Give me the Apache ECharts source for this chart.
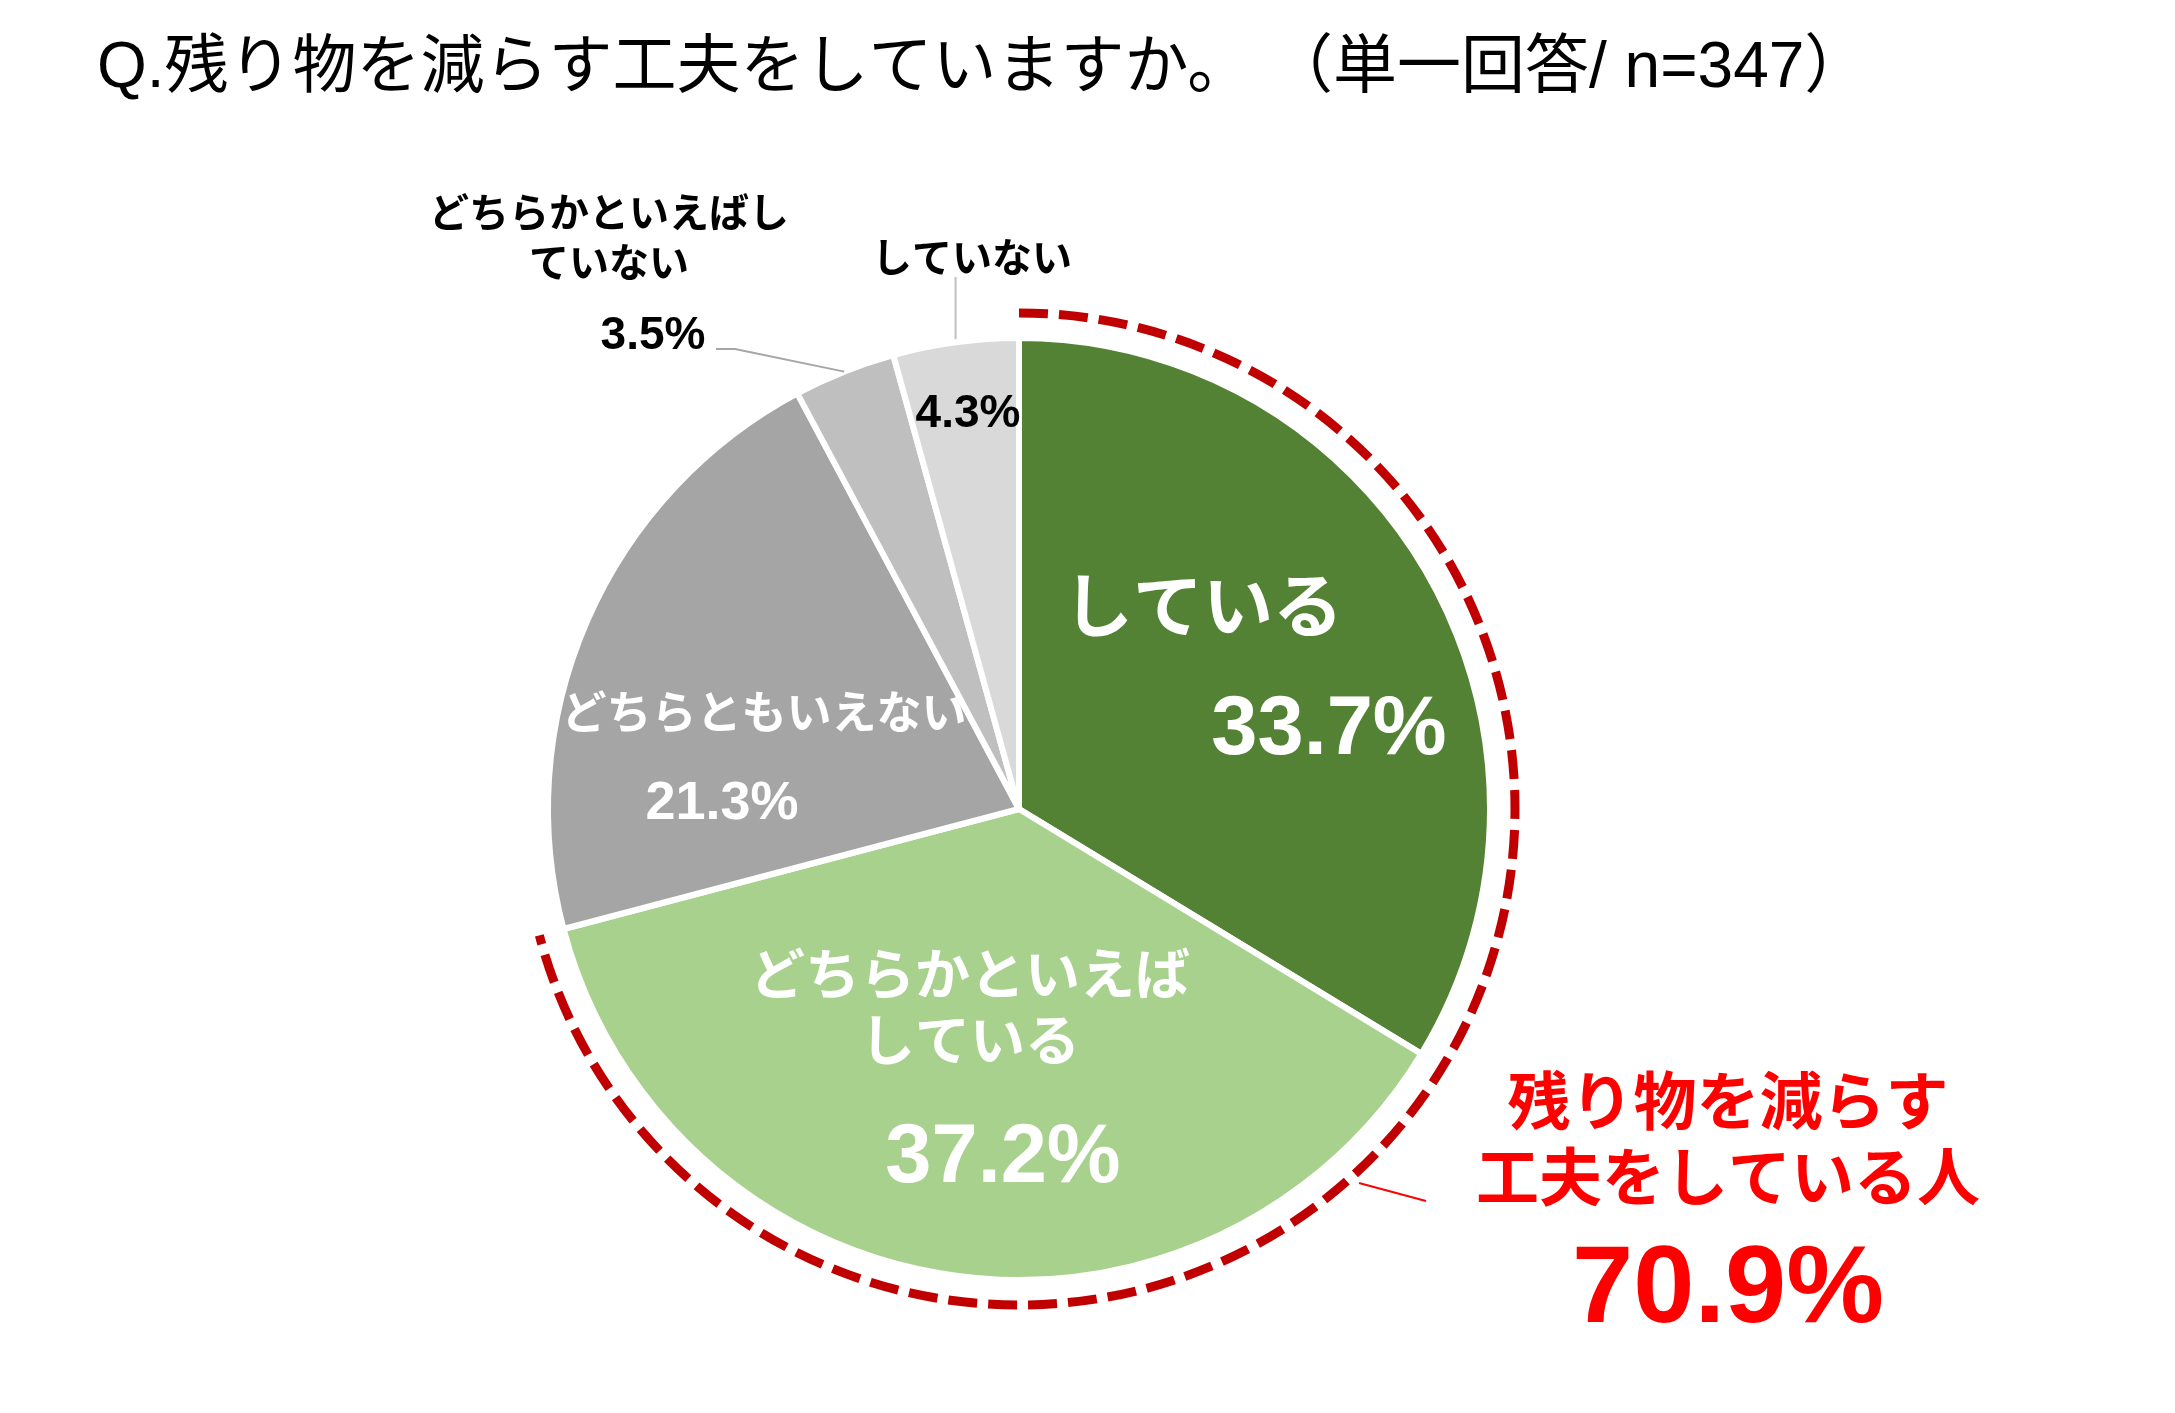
<!DOCTYPE html>
<html>
<head>
<meta charset="utf-8">
<script src="https://cdn.jsdelivr.net/npm/echarts@6/dist/echarts.min.js"></script>
<style>
  html, body { margin: 0; padding: 0; background: #ffffff; }
  #chart { width: 2175px; height: 1413px; }
</style>
</head>
<body>
<div id="chart"></div>
<script>
// Survey answers, clockwise from 12 o'clock
const categories = ['している', 'どちらかといえばしている', 'どちらともいえない', 'どちらかといえばしていない', 'していない'];
const shares = [33.7, 37.2, 21.3, 3.5, 4.3];
// How each category name is broken onto lines in its label
const nameLines = [['している'], ['どちらかといえば', 'している'], ['どちらともいえない'], ['どちらかといえばし', 'ていない'], ['していない']];
const titleText = 'Q.残り物を減らす工夫をしていますか。 （単一回答/ n=347）';
const summaryLines = ['残り物を減らす', '工夫をしている人'];
// The first two answers together form the "doing something" group
const doingGroupSize = 2;

// ---- styling / layout ----
const FONT = "'Liberation Sans', 'Noto Sans CJK JP', sans-serif";
const sliceColors = ['#548235', '#A9D18E', '#A5A5A5', '#BFBFBF', '#D9D9D9'];
const CX = 1019, CY = 809, R = 471;
const RING_R = 496;

const nameStyle = [
  { position: 'inside', color: '#ffffff', fontSize: 70, lineHeight: 74 },
  { position: 'inside', color: '#ffffff', fontSize: 55, lineHeight: 66 },
  { position: 'inside', color: '#ffffff', fontSize: 45, lineHeight: 50 },
  { position: 'outside', color: '#000000', fontSize: 40, lineHeight: 50 },
  { position: 'outside', color: '#000000', fontSize: 40, lineHeight: 46 }
];
const valueStyle = [
  { position: 'inside', color: '#ffffff', fontSize: 83 },
  { position: 'inside', color: '#ffffff', fontSize: 83 },
  { position: 'inside', color: '#ffffff', fontSize: 54 },
  { position: 'outside', color: '#000000', fontSize: 46 },
  { position: 'inside', color: '#000000', fontSize: 46 }
];
const nameLabelPos = [[1203, 613], [970, 1012], [764, 717], [609, 241], [972, 261]];
const valueLabelPos = [[1329, 731], [1003, 1159], [722, 804], [653, 336], [968, 414]];

const groupShare = shares.slice(0, doingGroupSize).reduce((a, b) => a + b, 0);

function buildData(styles, withLines, transparent) {
  return categories.map((name, i) => ({
    name: name,
    value: shares[i],
    itemStyle: transparent
      ? { color: 'rgba(0,0,0,0)', borderWidth: 0 }
      : { color: sliceColors[i] },
    label: {
      position: styles[i].position,
      color: styles[i].color,
      fontSize: styles[i].fontSize,
      lineHeight: styles[i].lineHeight || styles[i].fontSize * 1.2
    },
    labelLine: withLines[i]
      ? { show: true, lineStyle: { color: withLines[i], width: 2 } }
      : { show: false }
  }));
}

function placeLabel(posTable, lineMode) {
  return function (p) {
    const i = p.dataIndex;
    const out = { x: posTable[i][0], y: posTable[i][1], align: 'center', verticalAlign: 'middle' };
    const pts = p.labelLinePoints;
    if (lineMode[i] && pts && pts.length) {
      const ex = pts[0][0], ey = pts[0][1];
      if (lineMode[i] === 'vertical') {
        out.labelLinePoints = [[ex, ey], [ex, 277], [ex, 277]];
      } else {
        out.labelLinePoints = [[ex, ey], [735, 349], [716, 349]];
      }
    }
    return out;
  };
}

const chart = echarts.init(document.getElementById('chart'), null, { renderer: 'canvas' });

chart.setOption({
  backgroundColor: '#ffffff',
  animation: false,
  title: {
    text: titleText,
    left: 97,
    top: 37,
    padding: 0,
    textStyle: { fontFamily: FONT, fontSize: 64, fontWeight: 'normal', color: '#000000' }
  },
  series: [
    {
      type: 'pie',
      name: 'names',
      center: [CX, CY],
      radius: R,
      startAngle: 90,
      clockwise: true,
      avoidLabelOverlap: false,
      silent: true,
      emphasis: { disabled: true },
      itemStyle: { borderColor: '#ffffff', borderWidth: 6 },
      label: {
        show: true,
        fontFamily: FONT,
        fontWeight: 'bold',
        formatter: p => nameLines[p.dataIndex].join('\n')
      },
      labelLine: { show: false },
      data: buildData(nameStyle, [null, null, null, null, '#BFBFBF'], false),
      labelLayout: placeLabel(nameLabelPos, [null, null, null, null, 'vertical'])
    },
    {
      type: 'pie',
      name: 'values',
      center: [CX, CY],
      radius: R,
      startAngle: 90,
      clockwise: true,
      avoidLabelOverlap: false,
      silent: true,
      z: 3,
      emphasis: { disabled: true },
      label: {
        show: true,
        fontFamily: FONT,
        fontWeight: 'bold',
        formatter: p => p.value.toFixed(1) + '%'
      },
      labelLine: { show: false },
      data: buildData(valueStyle, [null, null, null, '#A6A6A6', null], true),
      labelLayout: placeLabel(valueLabelPos, [null, null, null, 'bent', null])
    }
  ],
  graphic: [
    {
      // dashed ring around the "doing something" group
      type: 'arc',
      z: 10,
      silent: true,
      shape: {
        cx: CX, cy: CY, r: RING_R,
        startAngle: -Math.PI / 2,
        endAngle: -Math.PI / 2 + 2 * Math.PI * groupShare / 100,
        clockwise: true
      },
      style: { stroke: '#C00000', lineWidth: 9, lineDash: [29, 11], fill: null, lineCap: 'butt' }
    },
    {
      type: 'line',
      z: 10,
      silent: true,
      shape: { x1: 1359, y1: 1183, x2: 1426, y2: 1201 },
      style: { stroke: '#FF0000', lineWidth: 2 }
    },
    {
      type: 'text', z: 10, silent: true, x: 1728, y: 1107,
      style: { text: summaryLines[0], align: 'center', verticalAlign: 'middle', fill: '#FF0000',
               fontFamily: FONT, fontSize: 63, fontWeight: 'bold' }
    },
    {
      type: 'text', z: 10, silent: true, x: 1728, y: 1183,
      style: { text: summaryLines[1], align: 'center', verticalAlign: 'middle', fill: '#FF0000',
               fontFamily: FONT, fontSize: 63, fontWeight: 'bold' }
    },
    {
      type: 'text', z: 10, silent: true, x: 1728, y: 1292,
      style: { text: groupShare.toFixed(1) + '%', align: 'center', verticalAlign: 'middle', fill: '#FF0000',
               fontFamily: FONT, fontSize: 110, fontWeight: 'bold' }
    }
  ]
});
</script>
</body>
</html>
